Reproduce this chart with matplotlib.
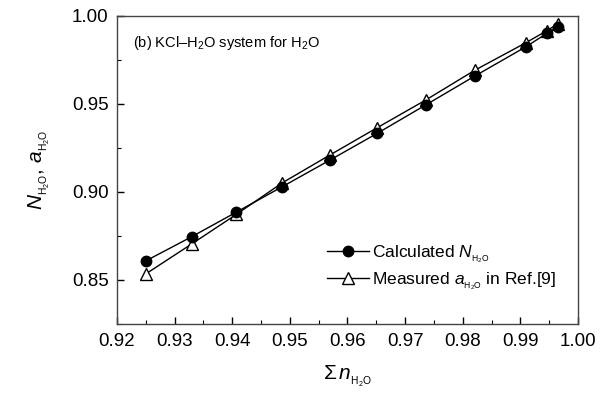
import matplotlib
matplotlib.use("Agg")
import matplotlib.pyplot as plt
from matplotlib.ticker import MultipleLocator, FormatStrFormatter

plt.rcParams['font.family'] = ['Liberation Sans', 'DejaVu Sans']
plt.rcParams['mathtext.fontset'] = 'custom'
plt.rcParams['mathtext.rm'] = 'Liberation Sans'
plt.rcParams['mathtext.it'] = 'Liberation Sans:italic'
plt.rcParams['mathtext.sf'] = 'Liberation Sans'

sum_n = [0.925, 0.933, 0.9407, 0.9487, 0.957, 0.9652, 0.9736, 0.9821, 0.991, 0.9946, 0.9965]
calc_N = [0.8606, 0.8744, 0.8883, 0.9028, 0.918, 0.9332, 0.9493, 0.9657, 0.9824, 0.9900, 0.9934]
meas_a = [0.8532, 0.8703, 0.8870, 0.9050, 0.9209, 0.9364, 0.9521, 0.9690, 0.9847, 0.9915, 0.9953]

fig = plt.figure(figsize=(6.15, 4.01), dpi=100)
ax = fig.add_axes([0.190, 0.193, 0.750, 0.768])

ax.plot(sum_n, calc_N, '-o', color='black', lw=1.0, ms=7.5, mfc='black', mec='black',
        label=r'Calculated $N_{\mathregular{_{H_2O}}}$', zorder=3)
ax.plot(sum_n, meas_a, '-^', color='black', lw=1.0, ms=8, mfc='white', mec='black',
        label=r'Measured $a_{\mathregular{_{H_2O}}}$ in Ref.[9]', zorder=2)

ax.set_xlim(0.92, 1.00)
ax.set_ylim(0.825, 1.00)
ax.xaxis.set_major_locator(MultipleLocator(0.01))
ax.xaxis.set_minor_locator(MultipleLocator(0.005))
ax.yaxis.set_major_locator(MultipleLocator(0.05))
ax.yaxis.set_minor_locator(MultipleLocator(0.025))
ax.xaxis.set_major_formatter(FormatStrFormatter('%.2f'))
ax.yaxis.set_major_formatter(FormatStrFormatter('%.2f'))
ax.tick_params(which='both', direction='in', top=False, right=False, labelsize=13.5)
ax.tick_params(which='major', length=5, width=1)
ax.tick_params(which='minor', length=3, width=0.8)
ax.tick_params(axis='x', pad=7)
ax.tick_params(axis='y', pad=6)
for s in ax.spines.values():
    s.set_color('#444444')
    s.set_linewidth(1.0)

ax.set_xlabel(r'$\Sigma\, n_{\mathregular{_{H_2O}}}$', fontsize=15, labelpad=10)
ax.set_ylabel(r'$N_{\mathregular{_{H_2O}}}$, $a_{\mathregular{_{H_2O}}}$', fontsize=15, labelpad=14)

ax.text(0.034, 0.911, r'(b) KCl–H$_{\mathregular{2}}$O system for H$_{\mathregular{2}}$O',
        transform=ax.transAxes, fontsize=10.5, va='center', ha='left')

leg = ax.legend(loc='lower right', bbox_to_anchor=(0.975, 0.07), frameon=False, fontsize=12.5,
                handlelength=2.4, handletextpad=0.2, labelspacing=0.3, borderaxespad=0.2)

fig.savefig('out.png', dpi=100)
